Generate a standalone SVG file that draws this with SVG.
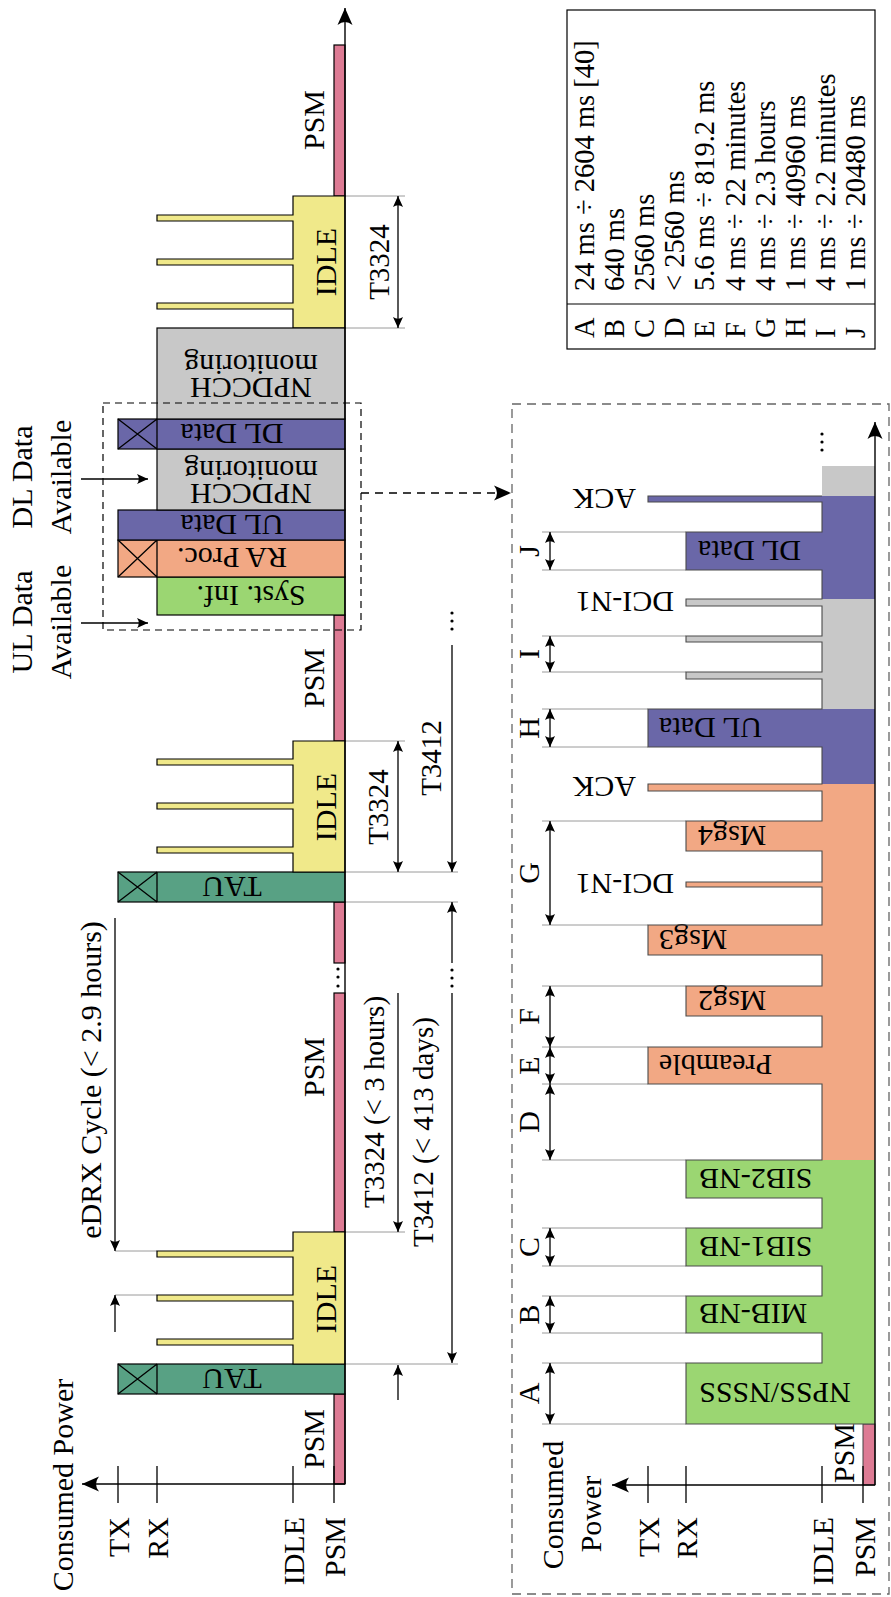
<svg xmlns="http://www.w3.org/2000/svg" width="891" height="1597" viewBox="0 0 891 1597">
<defs>
<style>
text{font-family:"Liberation Serif","Times New Roman",serif;font-size:30px;fill:#000}
.s{font-size:29px}
.tb{font-size:28.5px}
.c{text-anchor:middle;dominant-baseline:central}
.e{text-anchor:end;dominant-baseline:central}
.st{text-anchor:start;dominant-baseline:central}
.m{text-anchor:middle}
.ln{stroke:#000;stroke-width:1.3;fill:none}
.g{stroke:#9a9a9a;stroke-width:1;fill:none}
.a1{marker-end:url(#ah)}
.a2{marker-start:url(#ah);marker-end:url(#ah)}
.blk{stroke:#000;stroke-width:1.2}
.psm{fill:#DD7B94}
.tau{fill:#58A184}
.idle{fill:#F0E98A}
.sys{fill:#9BD672}
.ra{fill:#F2A884}
.dat{fill:#6A67A8}
.mon{fill:#C8C8C8}
.dot{fill:#000}
</style>
<marker id="ah" viewBox="-12 -6 13 12" refX="0" refY="0" markerWidth="13" markerHeight="12" markerUnits="userSpaceOnUse" orient="auto-start-reverse"><path d="M0,0 L-11,-5 Q-7.5,0 -11,5 Z" fill="#000"/></marker>
<marker id="ahb" viewBox="-19 -9 20 18" refX="0" refY="0" markerWidth="20" markerHeight="18" markerUnits="userSpaceOnUse" orient="auto-start-reverse"><path d="M0,0 L-17,-7.5 Q-11,0 -17,7.5 Z" fill="#000"/></marker>
</defs>
<rect width="891" height="1597" fill="#fff"/>

<g id="top-guides" class="g">
<path d="M345,1232H405 M345,1364H458 M345,902H458 M345,872H458 M345,741H405 M345,328H405 M345,196H405 M115,1251H157 M115,1295H157"/>
</g>

<g id="psm-top">
<rect class="psm blk" x="334" y="1394" width="11" height="90"/>
<rect class="psm blk" x="334" y="902" width="11" height="61"/>
<rect class="psm blk" x="334" y="993" width="11" height="239"/>
<rect class="psm blk" x="334" y="615" width="11" height="126"/>
<rect class="psm blk" x="334" y="45" width="11" height="151"/>
<circle class="dot" cx="338" cy="969" r="1.6"/><circle class="dot" cx="338" cy="977" r="1.6"/><circle class="dot" cx="338" cy="986" r="1.6"/>
<text transform="translate(313,1439) rotate(-90)" class="c">PSM</text>
<text transform="translate(313,1067) rotate(-90)" class="c">PSM</text>
<text transform="translate(313,678) rotate(-90)" class="c">PSM</text>
<text transform="translate(313,120) rotate(-90)" class="c">PSM</text>
</g>

<g id="tau1">
<rect class="tau blk" x="118" y="1364" width="227" height="30"/>
<path class="ln" d="M157,1364V1394 M118,1364L157,1394 M118,1394L157,1364" stroke-width="1"/>
<text transform="translate(232,1379) rotate(180)" class="c">TAU</text>
</g>
<g id="tau2">
<rect class="tau blk" x="118" y="872" width="227" height="30"/>
<path class="ln" d="M157,872V902 M118,872L157,902 M118,902L157,872" stroke-width="1"/>
<text transform="translate(232,887) rotate(180)" class="c">TAU</text>
</g>

<g id="idle1">
<polygon class="idle blk" points="345,1232 293,1232 293,1251 157,1251 157,1257 293,1257 293,1295 157,1295 157,1301 293,1301 293,1339 157,1339 157,1345 293,1345 293,1364 345,1364"/>
<text transform="translate(325,1299) rotate(-90)" class="c">IDLE</text>
</g>
<g id="idle2">
<polygon class="idle blk" points="345,741 293,741 293,759 157,759 157,765 293,765 293,803 157,803 157,809 293,809 293,847 157,847 157,853 293,853 293,872 345,872"/>
<text transform="translate(325,807) rotate(-90)" class="c">IDLE</text>
</g>
<g id="idle3">
<polygon class="idle blk" points="345,196 293,196 293,215 157,215 157,221 293,221 293,259 157,259 157,265 293,265 293,303 157,303 157,309 293,309 293,328 345,328"/>
<text transform="translate(325,262) rotate(-90)" class="c">IDLE</text>
</g>

<g id="syst-inf">
<rect class="sys blk" x="157" y="577" width="188" height="38"/>
<text transform="translate(251,596) rotate(180)" class="c">Syst.  Inf.</text>
</g>
<g id="ra-proc">
<rect class="ra blk" x="118" y="540" width="227" height="37"/>
<path class="ln" d="M157,540V577 M118,540L157,577 M118,577L157,540" stroke-width="1"/>
<text transform="translate(232,558) rotate(180)" class="c">RA Proc.</text>
</g>
<g id="ul-data">
<rect class="dat blk" x="118" y="510" width="227" height="30"/>
<text transform="translate(232,525) rotate(180)" class="c">UL Data</text>
</g>
<g id="npdcch1">
<rect class="mon blk" x="157" y="449" width="188" height="61"/>
<text transform="translate(251,483.5) rotate(180)" class="m">NPDCCH</text>
<text transform="translate(251,460.5) rotate(180)" class="m">monitoring</text>
</g>
<g id="dl-data">
<rect class="dat blk" x="118" y="419" width="227" height="30"/>
<path class="ln" d="M157,419V449 M118,419L157,449 M118,449L157,419" stroke-width="1"/>
<text transform="translate(232,434) rotate(180)" class="c">DL Data</text>
</g>
<g id="npdcch2">
<rect class="mon blk" x="157" y="328" width="188" height="91"/>
<text transform="translate(251,378) rotate(180)" class="m">NPDCCH</text>
<text transform="translate(251,355) rotate(180)" class="m">monitoring</text>
</g>

<g id="top-axes">
<line x1="345" y1="1484" x2="345" y2="8" stroke="#000" stroke-width="1.4" marker-end="url(#ahb)"/>
<line x1="345" y1="1484" x2="82" y2="1484" stroke="#000" stroke-width="1.4" marker-end="url(#ahb)"/>
<path class="ln" d="M118,1466V1503 M157,1466V1503 M293,1466V1503 M334,1466V1503"/>
<text transform="translate(62,1485) rotate(-90)" class="c">Consumed Power</text>
<text transform="translate(118,1517) rotate(-90)" class="e">TX</text>
<text transform="translate(157,1517) rotate(-90)" class="e">RX</text>
<text transform="translate(293,1517) rotate(-90)" class="e">IDLE</text>
<text transform="translate(334,1517) rotate(-90)" class="e">PSM</text>
</g>

<g id="top-dims">
<line class="ln a1" x1="115" y1="918" x2="115" y2="1251"/>
<line class="ln a1" x1="115" y1="1332" x2="115" y2="1295"/>
<text transform="translate(90,1080) rotate(-90)" class="c">eDRX Cycle (&lt; 2.9 hours)</text>
<line class="ln a1" x1="398" y1="993" x2="398" y2="1232"/>
<line class="ln a1" x1="398" y1="1400" x2="398" y2="1365"/>
<text transform="translate(374,1102) rotate(-90)" class="c s">T3324 (&lt; 3 hours)</text>
<line class="ln a1" x1="452" y1="963" x2="452" y2="902"/>
<line class="ln a1" x1="452" y1="993" x2="452" y2="1363"/>
<circle class="dot" cx="452" cy="970" r="1.6"/><circle class="dot" cx="452" cy="978" r="1.6"/><circle class="dot" cx="452" cy="986" r="1.6"/>
<text transform="translate(423,1132) rotate(-90)" class="c s">T3412 (&lt; 413 days)</text>
<line class="ln a2" x1="398" y1="741" x2="398" y2="872"/>
<text transform="translate(378,807) rotate(-90)" class="c s">T3324</text>
<line class="ln a1" x1="452" y1="645" x2="452" y2="872"/>
<circle class="dot" cx="452" cy="613" r="1.6"/><circle class="dot" cx="452" cy="621" r="1.6"/><circle class="dot" cx="452" cy="629" r="1.6"/>
<text transform="translate(431,758) rotate(-90)" class="c s">T3412</text>
<line class="ln a2" x1="398" y1="196" x2="398" y2="328"/>
<text transform="translate(379,262) rotate(-90)" class="c s">T3324</text>
</g>

<g id="ul-avail">
<text transform="translate(21,622) rotate(-90)" class="c">UL Data</text>
<text transform="translate(60,622) rotate(-90)" class="c">Available</text>
<line class="ln a1" x1="81" y1="623" x2="148" y2="623"/>
</g>
<g id="dl-avail">
<text transform="translate(21,477) rotate(-90)" class="c">DL Data</text>
<text transform="translate(60,477) rotate(-90)" class="c">Available</text>
<line class="ln a1" x1="81" y1="479" x2="148" y2="479"/>
</g>

<g id="zoom-box">
<rect x="103" y="403" width="258" height="227" fill="none" stroke="#000" stroke-width="1.2" stroke-dasharray="7,5"/>
</g>

<g id="connectors">
<line x1="361" y1="493" x2="511" y2="493" stroke="#000" stroke-width="1.3" stroke-dasharray="8,6" marker-end="url(#ahb)"/>
</g>

<g id="detail-box">
<rect x="512" y="404" width="377" height="1190" fill="none" stroke="#666" stroke-width="1.3" stroke-dasharray="9,6"/>
</g>

<g id="detail-guides" class="g">
<path d="M542,1424H686 M542,1363H686 M542,1333H686 M542,1296H686 M542,1266H686 M542,1228H686 M542,1160H686 M542,1084H648 M542,1047H648 M542,986H686 M542,925H648 M542,821H686 M542,747H648 M542,709H648 M542,672H686 M542,636H686 M542,570H686 M542,532H686"/>
</g>

<g id="detail-psm">
<text transform="translate(843,1453) rotate(-90)" class="c">PSM</text>
<rect class="psm" x="863" y="1424" width="12" height="61" stroke="#444" stroke-width="1"/>
</g>

<g id="detail-sync">
<polygon class="sys" points="875,1424 686,1424 686,1363 822,1363 822,1333 686,1333 686,1296 822,1296 822,1266 686,1266 686,1228 822,1228 822,1198 686,1198 686,1160 875,1160"/>
<text transform="translate(699,1393) rotate(180)" class="e">NPSS/NSSS</text>
<text transform="translate(699,1314.5) rotate(180)" class="e">MIB-NB</text>
<text transform="translate(699,1247) rotate(180)" class="e">SIB1-NB</text>
<text transform="translate(699,1179) rotate(180)" class="e">SIB2-NB</text>
</g>
<g id="detail-ra">
<polygon class="ra" points="875,1160 822,1160 822,1084 648,1084 648,1047 822,1047 822,1016 686,1016 686,986 822,986 822,955 648,955 648,925 822,925 822,887 686,887 686,882 822,882 822,851 686,851 686,821 822,821 822,791 648,791 648,784 875,784"/>
<text transform="translate(659,1065.5) rotate(180)" class="e">Preamble</text>
<text transform="translate(698,1001) rotate(180)" class="e">Msg2</text>
<text transform="translate(659,940) rotate(180)" class="e">Msg3</text>
<text transform="translate(674,884.5) rotate(180)" class="st">DCI-N1</text>
<text transform="translate(698,836) rotate(180)" class="e">Msg4</text>
<text transform="translate(636,787.5) rotate(180)" class="st">ACK</text>
</g>
<g id="detail-ul">
<polygon class="dat" points="875,784 822,784 822,747 648,747 648,709 875,709"/>
<text transform="translate(659,728) rotate(180)" class="e">UL Data</text>
</g>
<g id="detail-mon">
<polygon class="mon" points="875,709 822,709 822,679 686,679 686,672 822,672 822,642 686,642 686,636 822,636 822,606 686,606 686,599 875,599"/>
<text transform="translate(674,602.5) rotate(180)" class="st">DCI-N1</text>
</g>
<g id="detail-dl">
<polygon class="dat" points="875,599 822,599 822,570 686,570 686,532 822,532 822,502 648,502 648,496 875,496"/>
<text transform="translate(698,551) rotate(180)" class="e">DL Data</text>
<text transform="translate(636,499) rotate(180)" class="st">ACK</text>
</g>
<g id="detail-mon2">
<rect class="mon" x="822" y="466" width="53" height="30"/>
<circle class="dot" cx="822" cy="434" r="1.6"/><circle class="dot" cx="822" cy="442" r="1.6"/><circle class="dot" cx="822" cy="450" r="1.6"/>
</g>
<g id="detail-outline">
<polyline fill="none" stroke="#4a4a4a" stroke-width="1.1" points="875,1424 686,1424 686,1363 822,1363 822,1333 686,1333 686,1296 822,1296 822,1266 686,1266 686,1228 822,1228 822,1198 686,1198 686,1160 822,1160 822,1084 648,1084 648,1047 822,1047 822,1016 686,1016 686,986 822,986 822,955 648,955 648,925 822,925 822,887 686,887 686,882 822,882 822,851 686,851 686,821 822,821 822,791 648,791 648,784 822,784 822,747 648,747 648,709 822,709 822,679 686,679 686,672 822,672 822,642 686,642 686,636 822,636 822,606 686,606 686,599 822,599 822,570 686,570 686,532 822,532 822,502 648,502 648,496 822,496"/>
</g>

<g id="detail-axes">
<line x1="875" y1="1485" x2="875" y2="422" stroke="#000" stroke-width="1.4" marker-end="url(#ahb)"/>
<line x1="875" y1="1485" x2="612" y2="1485" stroke="#000" stroke-width="1.4" marker-end="url(#ahb)"/>
<path class="ln" d="M648,1466V1503 M686,1466V1503 M822,1466V1503 M863,1466V1503"/>
<text transform="translate(552,1505) rotate(-90)" class="c">Consumed</text>
<text transform="translate(590,1514) rotate(-90)" class="c">Power</text>
<text transform="translate(648,1517) rotate(-90)" class="e">TX</text>
<text transform="translate(686,1517) rotate(-90)" class="e">RX</text>
<text transform="translate(822,1517) rotate(-90)" class="e">IDLE</text>
<text transform="translate(864,1517) rotate(-90)" class="e">PSM</text>
</g>

<g id="detail-dims">
<g class="ln a2">
<line x1="550" y1="1363" x2="550" y2="1424"/>
<line x1="550" y1="1296" x2="550" y2="1333"/>
<line x1="550" y1="1228" x2="550" y2="1266"/>
<line x1="550" y1="1084" x2="550" y2="1160"/>
<line x1="550" y1="1047" x2="550" y2="1084"/>
<line x1="550" y1="986" x2="550" y2="1047"/>
<line x1="550" y1="821" x2="550" y2="925"/>
<line x1="550" y1="709" x2="550" y2="747"/>
<line x1="550" y1="636" x2="550" y2="672"/>
<line x1="550" y1="532" x2="550" y2="570"/>
</g>
<text transform="translate(528,1393.5) rotate(-90)" class="c">A</text>
<text transform="translate(528,1314.5) rotate(-90)" class="c">B</text>
<text transform="translate(528,1247) rotate(-90)" class="c">C</text>
<text transform="translate(528,1122) rotate(-90)" class="c">D</text>
<text transform="translate(528,1065.5) rotate(-90)" class="c">E</text>
<text transform="translate(528,1016.5) rotate(-90)" class="c">F</text>
<text transform="translate(528,873) rotate(-90)" class="c">G</text>
<text transform="translate(528,728) rotate(-90)" class="c">H</text>
<text transform="translate(528,654) rotate(-90)" class="c">I</text>
<text transform="translate(528,551) rotate(-90)" class="c">J</text>
</g>

<g id="legend-table">
<rect x="567" y="10" width="308" height="339" fill="none" stroke="#000" stroke-width="1.2"/>
<line x1="567" y1="304" x2="875" y2="304" stroke="#000" stroke-width="1.2"/>
<text class="st tb" transform="translate(584,338) rotate(-90)">A</text>
<text class="st tb" transform="translate(614.2,338) rotate(-90)">B</text>
<text class="st tb" transform="translate(644.4,338) rotate(-90)">C</text>
<text class="st tb" transform="translate(674.6,338) rotate(-90)">D</text>
<text class="st tb" transform="translate(704.8,338) rotate(-90)">E</text>
<text class="st tb" transform="translate(735,338) rotate(-90)">F</text>
<text class="st tb" transform="translate(765.2,338) rotate(-90)">G</text>
<text class="st tb" transform="translate(795.4,338) rotate(-90)">H</text>
<text class="st tb" transform="translate(825.6,338) rotate(-90)">I</text>
<text class="st tb" transform="translate(855.8,338) rotate(-90)">J</text>
<text class="st tb" transform="translate(584,291) rotate(-90)">24 ms ÷ 2604 ms [40]</text>
<text class="st tb" transform="translate(614.2,291) rotate(-90)">640 ms</text>
<text class="st tb" transform="translate(644.4,291) rotate(-90)">2560 ms</text>
<text class="st tb" transform="translate(674.6,291) rotate(-90)">&lt; 2560 ms</text>
<text class="st tb" transform="translate(704.8,291) rotate(-90)">5.6 ms ÷ 819.2 ms</text>
<text class="st tb" transform="translate(735,291) rotate(-90)">4 ms ÷ 22 minutes</text>
<text class="st tb" transform="translate(765.2,291) rotate(-90)">4 ms ÷ 2.3 hours</text>
<text class="st tb" transform="translate(795.4,291) rotate(-90)">1 ms ÷ 40960 ms</text>
<text class="st tb" transform="translate(825.6,291) rotate(-90)">4 ms ÷ 2.2 minutes</text>
<text class="st tb" transform="translate(855.8,291) rotate(-90)">1 ms ÷ 20480 ms</text>
</g>
</svg>
